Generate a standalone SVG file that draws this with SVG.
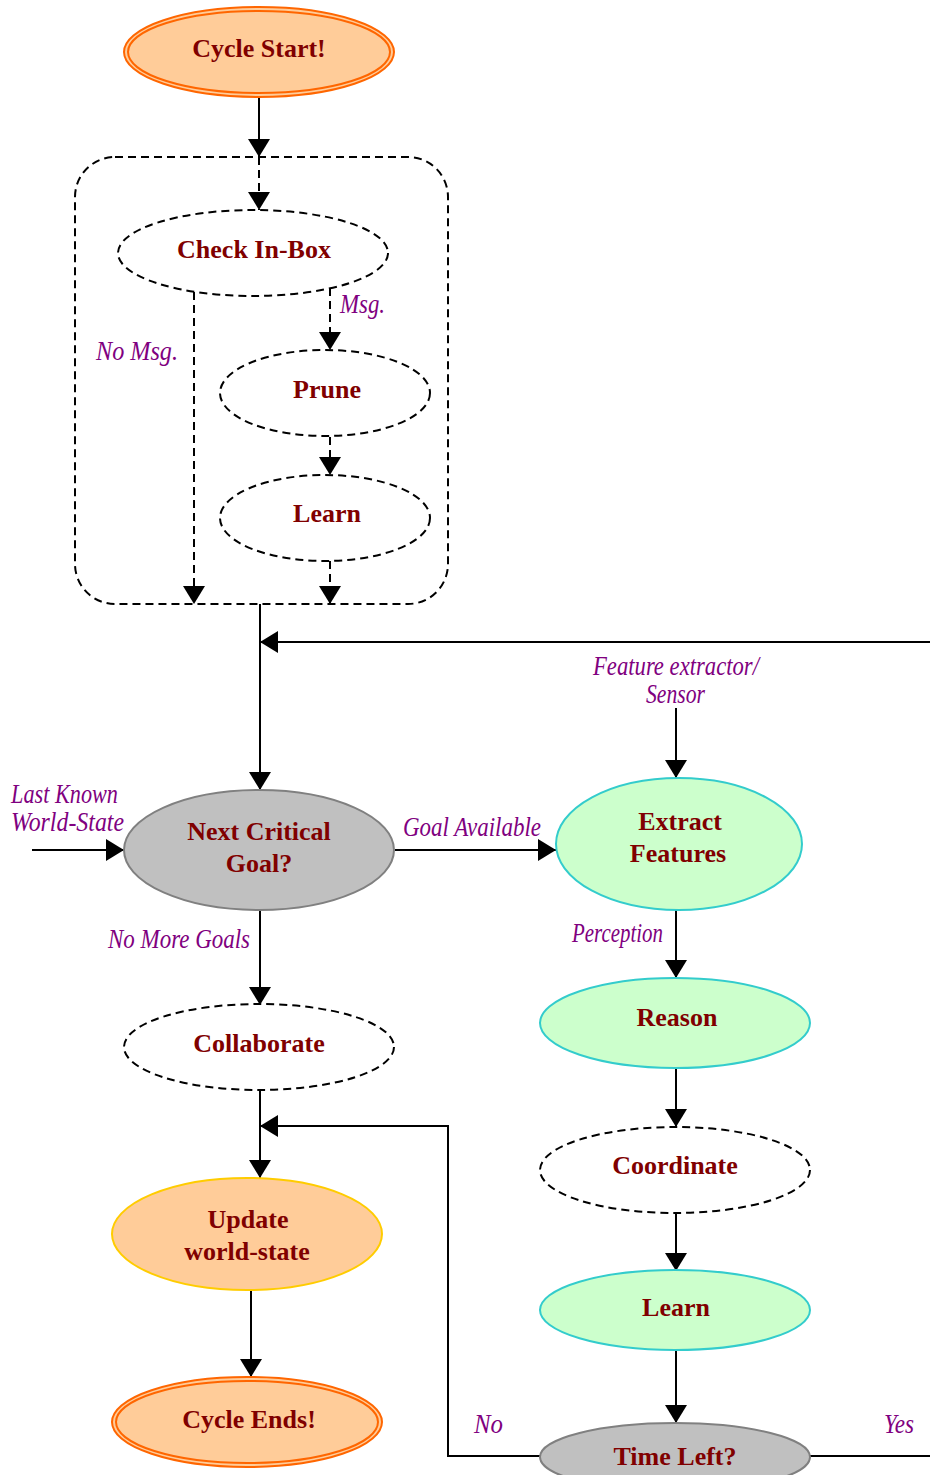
<svg xmlns="http://www.w3.org/2000/svg" width="930" height="1475" viewBox="0 0 930 1475">
  <defs>
    <marker id="arrow" markerUnits="userSpaceOnUse" markerWidth="20" markerHeight="22" refX="18" refY="11" orient="auto">
      <path d="M0,0 L18,11 L0,22 z" fill="#000"/>
    </marker>
    <style>
      .node-text { font-family: "Liberation Serif", "Times New Roman", serif; font-weight: bold; font-size: 26px; fill: #800000; text-anchor: middle; }
      .label { font-family: "Liberation Serif", "Times New Roman", serif; font-style: italic; font-size: 27px; fill: #800080; }
      .terminal { fill: #FFCC99; stroke: #FF6600; stroke-width: 2; }
      .terminal-inner { fill: none; stroke: #FF6600; stroke-width: 2; }
      .decision { fill: #C0C0C0; stroke: #808080; stroke-width: 2; }
      .action { fill: #CCFFCC; stroke: #33CCCC; stroke-width: 2; }
      .update { fill: #FFCC99; stroke: #FFCC00; stroke-width: 2; }
      .optional { fill: #FFFFFF; stroke: #000; stroke-width: 2; stroke-dasharray: 8 5; }
      .edge { fill: none; stroke: #000; stroke-width: 2; }
      .edge-dashed { fill: none; stroke: #000; stroke-width: 2; stroke-dasharray: 8 5; }
    </style>
  </defs>
  <rect width="930" height="1475" fill="#FFFFFF"/>

  <!-- message-handling sub-process -->
  <g id="inbox-group">
    <rect x="75" y="157" width="373" height="447" rx="40" ry="40" fill="none" stroke="#000" stroke-width="2" stroke-dasharray="8 5"/>
  </g>

  <!-- connectors -->
  <g id="connectors">
    <path class="edge" d="M259,98 L259,157" marker-end="url(#arrow)"/>
    <path class="edge-dashed" d="M259,157 L259,210" marker-end="url(#arrow)"/>
    <path class="edge-dashed" d="M330,288 L330,350" marker-end="url(#arrow)"/>
    <path class="edge-dashed" d="M194,292 L194,604" marker-end="url(#arrow)"/>
    <path class="edge-dashed" d="M330,437 L330,475" marker-end="url(#arrow)"/>
    <path class="edge-dashed" d="M330,561 L330,604" marker-end="url(#arrow)"/>
    <path class="edge" d="M260,604 L260,790" marker-end="url(#arrow)"/>
    <path class="edge" d="M930,642 L260,642" marker-end="url(#arrow)"/>
    <path class="edge" d="M32,850 L124,850" marker-end="url(#arrow)"/>
    <path class="edge" d="M395,850 L556,850" marker-end="url(#arrow)"/>
    <path class="edge" d="M676,708 L676,778" marker-end="url(#arrow)"/>
    <path class="edge" d="M676,910 L676,978" marker-end="url(#arrow)"/>
    <path class="edge" d="M676,1068 L676,1127" marker-end="url(#arrow)"/>
    <path class="edge" d="M676,1213 L676,1271" marker-end="url(#arrow)"/>
    <path class="edge" d="M676,1350 L676,1423" marker-end="url(#arrow)"/>
    <path class="edge" d="M260,910 L260,1005" marker-end="url(#arrow)"/>
    <path class="edge" d="M260,1090 L260,1178" marker-end="url(#arrow)"/>
    <path class="edge" d="M540,1456 L448,1456 L448,1126 L260,1126" marker-end="url(#arrow)"/>
    <path class="edge" d="M810,1456 L930,1456"/>
    <path class="edge" d="M251,1291 L251,1377" marker-end="url(#arrow)"/>
  </g>

  <!-- connector labels -->
  <g id="edge-labels">
    <text class="label" x="340" y="313" textLength="45" lengthAdjust="spacingAndGlyphs">Msg.</text>
    <text class="label" x="96" y="360" textLength="82" lengthAdjust="spacingAndGlyphs">No Msg.</text>
    <text class="label" x="11" y="803" textLength="107" lengthAdjust="spacingAndGlyphs">Last Known</text>
    <text class="label" x="11" y="831" textLength="113" lengthAdjust="spacingAndGlyphs">World-State</text>
    <text class="label" x="403" y="836" textLength="138" lengthAdjust="spacingAndGlyphs">Goal Available</text>
    <text class="label" x="593" y="675" textLength="166" lengthAdjust="spacingAndGlyphs">Feature extractor/</text>
    <text class="label" x="646" y="703" textLength="59" lengthAdjust="spacingAndGlyphs">Sensor</text>
    <text class="label" x="572" y="942" textLength="91" lengthAdjust="spacingAndGlyphs">Perception</text>
    <text class="label" x="108" y="948" textLength="142" lengthAdjust="spacingAndGlyphs">No More Goals</text>
    <text class="label" x="474" y="1433" textLength="29" lengthAdjust="spacingAndGlyphs">No</text>
    <text class="label" x="884" y="1433" textLength="30" lengthAdjust="spacingAndGlyphs">Yes</text>
  </g>

  <g id="cycle-start">
    <ellipse class="terminal" cx="259" cy="52" rx="135" ry="45"/>
    <ellipse class="terminal-inner" cx="259" cy="52" rx="131" ry="41"/>
    <text class="node-text" x="259" y="57">Cycle Start!</text>
  </g>

  <g id="check-inbox">
    <ellipse class="optional" cx="253" cy="253" rx="135" ry="43"/>
    <text class="node-text" x="254" y="258">Check In-Box</text>
  </g>

  <g id="prune">
    <ellipse class="optional" cx="325" cy="393" rx="105" ry="43"/>
    <text class="node-text" x="327" y="398">Prune</text>
  </g>

  <g id="learn-inbox">
    <ellipse class="optional" cx="325" cy="518" rx="105" ry="43"/>
    <text class="node-text" x="327" y="522">Learn</text>
  </g>

  <g id="next-critical-goal">
    <ellipse class="decision" cx="259" cy="850" rx="135" ry="60"/>
    <text class="node-text" x="259" y="840">Next Critical</text>
    <text class="node-text" x="259" y="872">Goal?</text>
  </g>

  <g id="extract-features">
    <ellipse class="action" cx="679" cy="844" rx="123" ry="66"/>
    <text class="node-text" x="680" y="830">Extract</text>
    <text class="node-text" x="678" y="862">Features</text>
  </g>

  <g id="reason">
    <ellipse class="action" cx="675" cy="1023" rx="135" ry="45"/>
    <text class="node-text" x="677" y="1026">Reason</text>
  </g>

  <g id="coordinate">
    <ellipse class="optional" cx="675" cy="1170" rx="135" ry="43"/>
    <text class="node-text" x="675" y="1174">Coordinate</text>
  </g>

  <g id="learn">
    <ellipse class="action" cx="675" cy="1310" rx="135" ry="40"/>
    <text class="node-text" x="676" y="1316">Learn</text>
  </g>

  <g id="time-left">
    <ellipse class="decision" cx="675" cy="1457" rx="135" ry="34"/>
    <text class="node-text" x="675" y="1465">Time Left?</text>
  </g>

  <g id="collaborate">
    <ellipse class="optional" cx="259" cy="1047" rx="135" ry="43"/>
    <text class="node-text" x="259" y="1052">Collaborate</text>
  </g>

  <g id="update-world-state">
    <ellipse class="update" cx="247" cy="1234" rx="135" ry="56"/>
    <text class="node-text" x="248" y="1228">Update</text>
    <text class="node-text" x="247" y="1260">world-state</text>
  </g>

  <g id="cycle-ends">
    <ellipse class="terminal" cx="247" cy="1422" rx="135" ry="45"/>
    <ellipse class="terminal-inner" cx="247" cy="1422" rx="131" ry="41"/>
    <text class="node-text" x="249" y="1428">Cycle Ends!</text>
  </g>
</svg>
